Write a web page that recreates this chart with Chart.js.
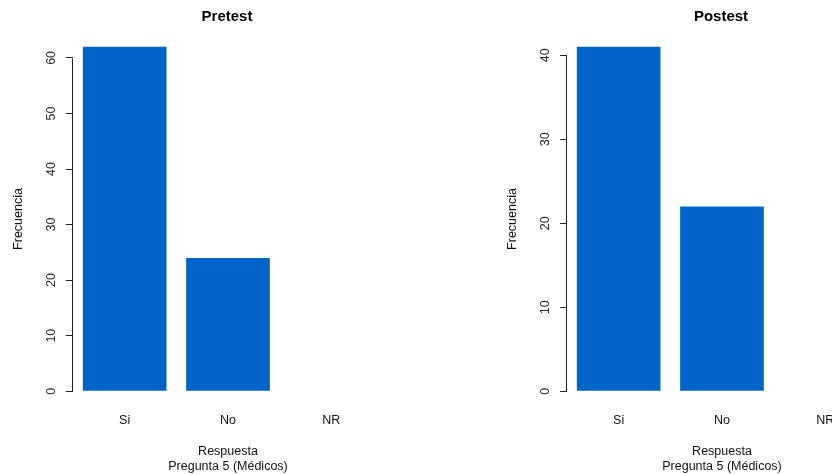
<!DOCTYPE html>
<html>
<head>
<meta charset="utf-8">
<script src="https://cdn.jsdelivr.net/npm/chart.js@4"></script>
<style>
  html, body { margin: 0; padding: 0; background: #fff; overflow: hidden; width: 832px; height: 474px; }
  .panel { position: absolute; top: 0; }
</style>
</head>
<body>
<div class="panel" style="left:0px"><canvas id="pretestChart" width="454" height="474"></canvas></div>
<div class="panel" style="left:494px"><canvas id="postestChart" width="454" height="474"></canvas></div>
<script>
// categories and values
const respuestas = ['Si', 'No', 'NR'];
const pretestValues = [62, 24, 0];
const postestValues = [41, 22, 0];
const pretestTicks = [0, 10, 20, 30, 40, 50, 60];
const postestTicks = [0, 10, 20, 30, 40];

const BAR_COLOR = '#0064C8';
Chart.defaults.font.family = "'Liberation Sans', Arial, sans-serif";
Chart.defaults.color = '#1a1a1a';

// R-style axis line: only from the first to the last tick
const axisLinePlugin = {
    id: 'axisLine',
    afterDraw(chart) {
        const y = chart.scales.y;
        const ctx = chart.ctx;
        const x = Math.round(chart.chartArea.left) - 0.5;
        const first = y.ticks[0].value;
        const last = y.ticks[y.ticks.length - 1].value;
        ctx.save();
        ctx.strokeStyle = '#222';
        ctx.lineWidth = 1;
        ctx.beginPath();
        ctx.moveTo(x, Math.round(y.getPixelForValue(first)) + 0.5);
        ctx.lineTo(x, Math.round(y.getPixelForValue(last)) + 0.5);
        ctx.stroke();
        ctx.restore();
    }
};

function makeBarChart(canvasId, title, values, ticks) {
    const maxVal = Math.max(...values);
    const pad = maxVal * 0.04;
    const ctx = document.getElementById(canvasId).getContext('2d');
    return new Chart(ctx, {
        type: 'bar',
        data: {
            labels: respuestas,
            datasets: [{
                data: values,
                backgroundColor: BAR_COLOR,
                borderWidth: 0,
                barPercentage: 0.81,
                categoryPercentage: 1
            }]
        },
        options: {
            responsive: false,
            animation: false,
            layout: { padding: 0 },
            plugins: {
                legend: { display: false },
                tooltip: { enabled: false },
                title: {
                    display: true,
                    text: title,
                    color: '#000',
                    font: { size: 15, weight: 'bold' },
                    padding: { top: 8, bottom: 7 }
                }
            },
            scales: {
                x: {
                    grid: { display: false, drawTicks: false },
                    border: { display: false },
                    ticks: { padding: 8, font: { size: 12.5 }, color: '#111' },
                    title: {
                        display: true,
                        text: ['Respuesta', 'Pregunta 5 (Médicos)'],
                        font: { size: 12.5 },
                        color: '#111',
                        padding: { top: 0, bottom: 0 }
                    },
                    afterFit: s => { s.height = 69; }
                },
                y: {
                    min: -pad,
                    max: maxVal + pad,
                    afterBuildTicks: s => { s.ticks = ticks.map(v => ({ value: v })); },
                    grid: { drawOnChartArea: false, drawTicks: true, tickLength: 7, color: '#222' },
                    border: { display: false },
                    ticks: {
                        minRotation: 90,
                        maxRotation: 90,
                        crossAlign: 'center',
                        autoSkip: false,
                        padding: 8,
                        font: { size: 12.5 },
                        color: '#222'
                    },
                    title: {
                        display: true,
                        text: 'Frecuencia',
                        font: { size: 12.5 },
                        color: '#111',
                        padding: { top: 11, bottom: 0 }
                    },
                    afterFit: s => { s.width = 73; }
                },
                // empty right margin so the title centres over the plot region
                yPad: {
                    position: 'right',
                    grid: { display: false },
                    border: { display: false },
                    ticks: { display: false },
                    afterFit: s => { s.width = 71; }
                }
            }
        },
        plugins: [axisLinePlugin]
    });
}

makeBarChart('pretestChart', 'Pretest', pretestValues, pretestTicks);
makeBarChart('postestChart', 'Postest', postestValues, postestTicks);
</script>
</body>
</html>
